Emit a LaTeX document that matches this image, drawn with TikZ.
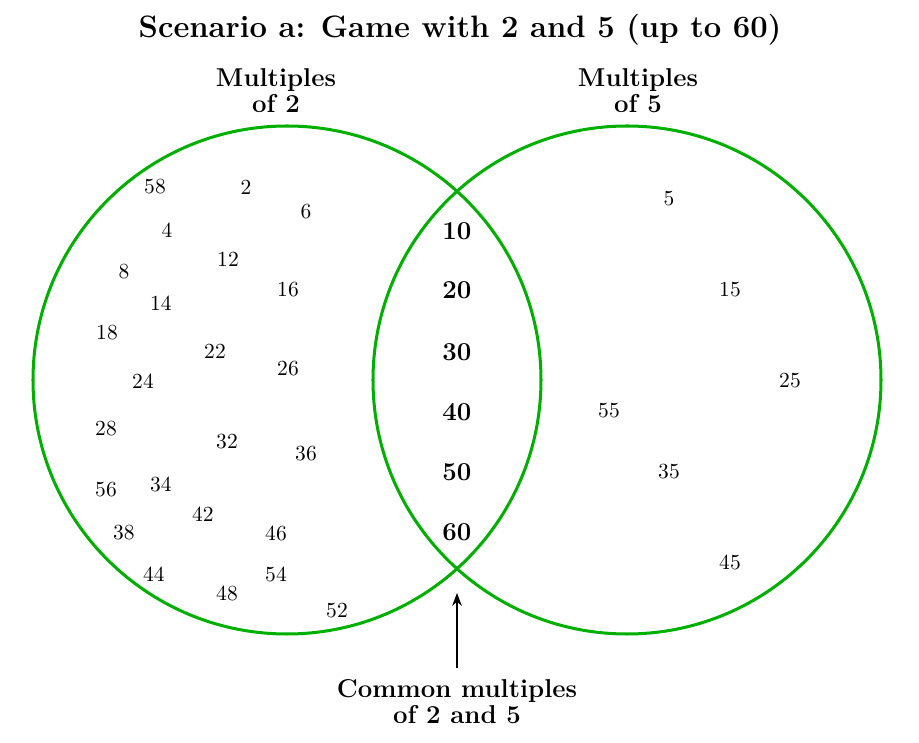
\documentclass[tikz,border=0pt]{standalone}
\usetikzlibrary{arrows.meta}
\definecolor{venngreen}{RGB}{0,175,0}
\begin{document}
\begin{tikzpicture}[x=0.465pt,y=-0.465pt,
  setcircle/.style={draw=venngreen,line width=1.4pt},
  num/.style={font=\normalsize,inner sep=1pt},
  common/.style={font=\large\bfseries,inner sep=1pt},
  label/.style={font=\large\bfseries,align=center,inner sep=0pt},
  pointer/.style={draw=black,line width=0.75pt,-{Stealth[length=6pt,width=4.5pt]}}]
\useasboundingbox (0,0) rectangle (919,743);
% title
\node[font=\Large\bfseries,inner sep=0pt] (title) at (460,29.8) {Scenario a: Game with 2 and 5 (up to 60)};
% circles
\coordinate (cl) at (287,380);
\coordinate (cr) at (627,380);
\draw[setcircle] (cl) circle[radius=254];
\draw[setcircle] (cr) circle[radius=254];
% set labels
\node[label] (lab2) at (276,90.5) {Multiples\\[-2pt]of 2};
\node[label] (lab5) at (638,90.5) {Multiples\\[-2pt]of 5};
% multiples of 2 only
\foreach \v/\x/\y in {58/155/187, 2/246/187, 6/306/212, 4/167/230, 12/228/259,
  8/124/272, 16/288/290, 14/161/303, 18/107/333, 22/215/351, 26/288/369,
  24/143/381, 28/106/429, 32/227/442, 36/306/454, 34/161/484, 56/106/490,
  42/203/514, 38/124/533, 46/276/533, 44/154/574, 54/276/574, 48/227/593, 52/337/611}
  \node[num] (n\v) at (\x,\y) {\v};
% multiples of 5 only
\foreach \v/\x/\y in {5/669/199, 15/730/290, 25/790/381, 55/609/411, 35/669/472, 45/730/562}
  \node[num] (n\v) at (\x,\y) {\v};
% common multiples
\foreach \v/\y in {10/231, 20/290, 30/352, 40/412, 50/472, 60/532}
  \node[common] (c\v) at (457,\y) {\v};
% pointer
\coordinate (tip) at (457,593);
\node[label] (commonlab) at (457,701.5) {Common multiples\\[-2pt]of 2 and 5};
\draw[pointer] ([yshift=5pt]commonlab.north) -- (tip);
\end{tikzpicture}
\end{document}
